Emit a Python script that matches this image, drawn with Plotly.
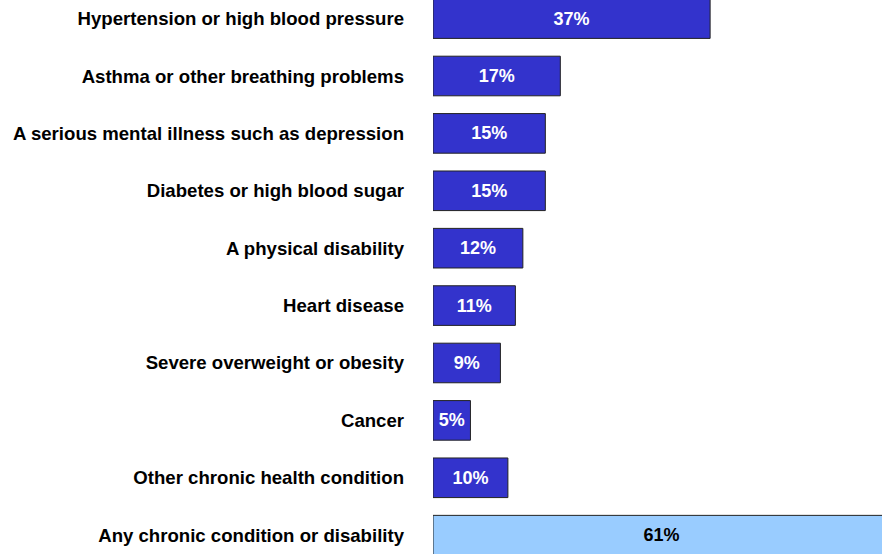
import plotly.graph_objects as go

categories = [
    "Hypertension or high blood pressure",
    "Asthma or other breathing problems",
    "A serious mental illness such as depression",
    "Diabetes or high blood sugar",
    "A physical disability",
    "Heart disease",
    "Severe overweight or obesity",
    "Cancer",
    "Other chronic health condition",
    "Any chronic condition or disability",
]
values = [37, 17, 15, 15, 12, 11, 9, 5, 10, 61]
bar_colors = ["#3333CC"] * 9 + ["#99CCFF"]
text_colors = ["#FFFFFF"] * 9 + ["#000000"]

labels = [f"{v}%" for v in values]

fig = go.Figure()
fig.add_trace(go.Bar(
    y=categories, x=values, orientation="h",
    marker=dict(color=bar_colors, line=dict(color="#222222", width=1)),
    width=0.69, hoverinfo="skip",
    text=labels, textposition="inside", insidetextanchor="middle",
    textangle=0, constraintext="none",
    insidetextfont=dict(family="Liberation Sans, Arial", size=18, color=text_colors, weight="bold"),
))

fig.update_layout(
    width=882, height=554,
    margin=dict(l=433, r=0, t=0, b=0),
    plot_bgcolor="white", paper_bgcolor="white",
    showlegend=False,
    font=dict(family="Liberation Sans, Arial", color="#000000"),
    xaxis=dict(range=[0, 59.95], visible=False, fixedrange=True),
    yaxis=dict(
        type="category", range=[9.328, -0.324],
        showgrid=False, zeroline=False, showline=False, ticks="",
        ticklabelstandoff=28,
        tickfont=dict(family="Liberation Sans, Arial", size=18.6, color="#000000", weight="bold"),
    ),
)

fig.write_html("out.html", config={"displayModeBar": False},
               post_script="document.body.style.margin='0';")
